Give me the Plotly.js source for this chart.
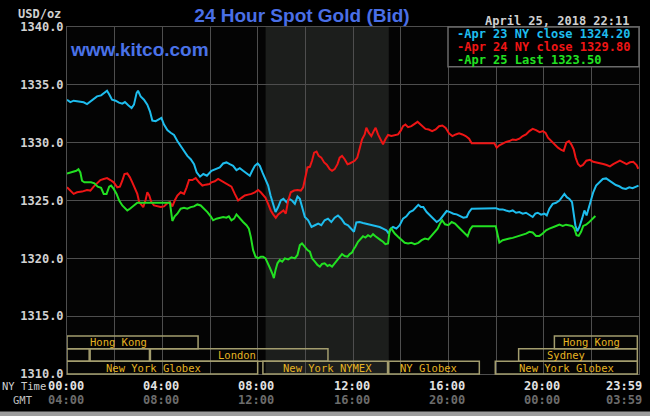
<!DOCTYPE html>
<html>
<head>
<meta charset="utf-8">
<script src="https://cdn.plot.ly/plotly-3.0.1.min.js"></script>
<style>html,body{margin:0;padding:0;background:#000;}#chart{width:650px;height:416px;}</style>
</head>
<body>
<div id="chart"></div>
<script>
// ---- Data (hours of NY time, price USD/oz) ----
const apr23T = [0,0.14,0.28,0.49,0.70,0.84,1.05,1.26,1.43,1.57,1.68,1.78,1.89,2.04,2.18,2.32,2.43,2.57,2.71,2.81,2.92,2.98,3.09,3.23,3.37,3.48,3.58,3.72,3.86,3.96,4.07,4.21,4.35,4.49,4.63,4.77,4.91,5.05,5.19,5.33,5.44,5.58,5.72,5.87,6.06,6.20,6.41,6.55,6.69,6.83,6.97,7.11,7.25,7.39,7.53,7.67,7.77,7.88,8.0,8.09,8.2,8.33,8.44,8.54,8.65,8.75,8.86,8.97,9.08,9.21,9.32,9.44,9.56,9.67,9.77,9.86,9.98,10.12,10.26,10.40,10.54,10.67,10.81,10.95,11.09,11.23,11.37,11.51,11.65,11.79,11.93,12.04,12.14,12.28,12.42,12.56,12.70,12.84,12.98,13.12,13.26,13.40,13.50,13.58,13.68,13.82,13.96,14.10,14.24,14.38,14.52,14.66,14.74,14.85,14.95,15.09,15.23,15.37,15.51,15.65,15.79,15.93,16.07,16.21,16.35,16.49,16.63,16.77,16.87,16.98,17.54,18.0,18.14,18.28,18.42,18.56,18.70,18.84,18.98,19.12,19.26,19.40,19.54,19.65,19.75,19.89,20.03,20.13,20.24,20.38,20.52,20.66,20.77,20.87,20.97,21.08,21.19,21.26,21.33,21.41,21.50,21.61,21.71,21.80,21.89,21.99,22.08,22.20,22.34,22.48,22.62,22.76,22.90,23.03,23.17,23.31,23.45,23.59,23.73,23.87,23.98];
const apr23V = [1333.71,1333.51,1333.63,1333.57,1333.49,1333.34,1333.66,1334.0,1334.09,1334.34,1334.49,1334.14,1333.71,1333.63,1333.46,1333.37,1333.51,1333.23,1333.0,1333.29,1334.29,1334.49,1334.0,1333.71,1333.29,1332.71,1331.91,1331.86,1332.0,1332.14,1331.57,1331.09,1330.86,1330.66,1330.14,1329.71,1329.29,1328.86,1328.57,1328.14,1327.43,1327.06,1327.29,1327.14,1327.57,1327.71,1327.86,1328.2,1328.29,1328.14,1328.0,1327.63,1327.8,1327.57,1327.34,1327.14,1327.57,1328.0,1328.2,1328.0,1327.43,1326.86,1326.29,1325.43,1324.71,1324.0,1324.43,1325.0,1325.14,1324.86,1325.14,1325.0,1324.71,1325.34,1325.14,1324.43,1323.57,1323.29,1322.71,1322.86,1323.0,1322.86,1323.29,1323.43,1323.14,1323.51,1323.71,1323.43,1323.0,1322.86,1322.5,1322.3,1323.1,1323.14,1323.06,1323.0,1322.94,1322.86,1322.77,1322.71,1322.57,1322.43,1322.14,1322.57,1322.71,1322.57,1322.86,1323.43,1323.63,1324.0,1324.14,1324.49,1324.63,1324.43,1324.43,1324.0,1323.71,1323.43,1323.14,1323.34,1323.71,1324.09,1324.0,1323.86,1323.8,1323.63,1323.51,1323.57,1324.0,1324.29,1324.29,1324.34,1324.23,1324.23,1324.14,1324.06,1324.14,1323.94,1324.0,1323.86,1323.94,1323.77,1323.57,1323.86,1323.94,1323.77,1323.86,1323.71,1324.29,1324.71,1324.8,1325.0,1325.29,1325.57,1325.29,1325.14,1324.86,1323.71,1322.86,1322.34,1322.71,1323.43,1324.14,1323.71,1324.43,1325.14,1325.71,1326.29,1326.57,1326.86,1326.91,1326.71,1326.57,1326.34,1326.23,1326.06,1326.0,1326.14,1326.06,1326.23,1326.29];

const apr24T = [0,0.14,0.28,0.42,0.63,0.84,0.98,1.12,1.26,1.40,1.54,1.68,1.82,1.96,2.11,2.22,2.32,2.41,2.53,2.64,2.74,2.84,2.95,3.03,3.12,3.20,3.30,3.37,3.45,3.54,3.65,3.79,3.93,4.07,4.21,4.32,4.42,4.52,4.63,4.77,4.91,5.02,5.12,5.26,5.40,5.54,5.68,5.82,5.98,6.06,6.20,6.34,6.48,6.62,6.76,6.90,7.04,7.18,7.32,7.46,7.60,7.74,7.88,8.02,8.13,8.23,8.33,8.44,8.55,8.65,8.76,8.86,8.97,9.08,9.18,9.28,9.39,9.53,9.67,9.81,9.91,10.0,10.09,10.19,10.28,10.37,10.47,10.56,10.67,10.79,10.90,11.02,11.12,11.23,11.35,11.44,11.54,11.65,11.77,11.86,11.96,12.07,12.18,12.28,12.38,12.49,12.56,12.66,12.77,12.87,12.95,13.05,13.16,13.26,13.36,13.47,13.61,13.75,13.89,14.01,14.10,14.20,14.31,14.45,14.59,14.71,14.80,14.90,15.04,15.18,15.32,15.47,15.61,15.75,15.89,16.03,16.17,16.31,16.45,16.59,16.73,16.87,16.98,17.93,18.03,18.14,18.28,18.42,18.56,18.70,18.84,18.98,19.12,19.26,19.40,19.54,19.68,19.83,19.97,20.08,20.18,20.32,20.46,20.60,20.74,20.84,20.95,21.06,21.16,21.26,21.34,21.44,21.54,21.65,21.79,21.94,22.08,22.22,22.36,22.50,22.64,22.78,22.92,23.06,23.20,23.34,23.48,23.62,23.76,23.90,23.97];
const apr24V = [1326.14,1325.86,1325.57,1325.71,1325.77,1325.91,1325.86,1326.2,1326.49,1326.77,1326.86,1326.94,1326.77,1326.57,1326.14,1326.2,1326.71,1327.29,1327.34,1327.0,1326.57,1326.14,1325.57,1324.86,1324.57,1324.43,1325.06,1325.71,1325.43,1324.86,1324.57,1324.49,1324.43,1324.49,1324.77,1324.86,1324.49,1325.0,1325.43,1325.71,1325.57,1326.14,1326.77,1326.77,1326.94,1326.57,1326.29,1326.37,1326.43,1326.57,1326.66,1326.86,1326.71,1326.57,1326.37,1326.2,1325.57,1325.0,1325.23,1325.43,1325.51,1325.57,1325.71,1325.91,1325.71,1325.43,1325.23,1324.71,1324.14,1323.8,1323.51,1323.8,1324.0,1324.14,1323.86,1325.0,1325.71,1325.86,1325.91,1325.86,1326.14,1327.14,1327.86,1327.91,1328.43,1329.14,1329.23,1328.86,1328.71,1328.29,1328.09,1327.71,1327.57,1327.71,1328.14,1328.71,1328.86,1328.57,1328.14,1328.2,1328.3,1328.43,1328.71,1329.57,1330.29,1330.71,1331.29,1330.86,1330.57,1331.0,1331.29,1330.71,1330.29,1329.86,1330.29,1330.66,1330.57,1330.66,1330.71,1331.06,1331.43,1331.57,1331.34,1331.43,1331.63,1331.8,1331.63,1331.42,1331.19,1331.14,1331.0,1331.14,1331.42,1331.48,1331.28,1330.8,1330.57,1330.71,1330.8,1330.71,1330.57,1330.34,1329.94,1329.94,1329.57,1329.77,1329.94,1330.06,1330.14,1330.28,1330.23,1330.34,1330.57,1330.71,1331.0,1331.19,1331.08,1330.91,1331.0,1330.85,1330.43,1330.14,1329.86,1329.57,1329.37,1329.29,1330.0,1330.14,1329.86,1329.43,1328.72,1328.15,1327.95,1328.07,1328.44,1328.52,1328.35,1328.3,1328.24,1328.15,1328.07,1327.95,1328.15,1328.3,1328.44,1328.3,1328.15,1328.3,1328.35,1328.07,1327.73];

const apr25T = [0,0.14,0.28,0.39,0.48,0.56,0.63,0.73,0.87,1.01,1.15,1.29,1.43,1.54,1.66,1.77,1.85,1.96,2.08,2.19,2.32,2.43,2.53,2.64,2.75,2.86,2.95,4.32,4.38,4.42,4.52,4.63,4.77,4.91,5.05,5.19,5.33,5.47,5.61,5.75,5.89,6.03,6.13,6.27,6.41,6.55,6.69,6.79,6.90,7.01,7.11,7.25,7.39,7.53,7.63,7.71,7.81,7.91,8.02,8.13,8.23,8.33,8.44,8.52,8.61,8.68,8.75,8.83,8.93,9.03,9.14,9.28,9.42,9.56,9.67,9.77,9.86,9.98,10.09,10.19,10.28,10.40,10.51,10.61,10.70,10.81,10.93,11.02,11.12,11.23,11.35,11.44,11.54,11.65,11.77,11.86,11.96,12.05,12.10,12.21,12.32,12.42,12.52,12.63,12.74,12.84,12.94,13.05,13.16,13.26,13.36,13.47,13.54,13.61,13.75,13.89,14.03,14.17,14.31,14.45,14.59,14.74,14.88,15.02,15.16,15.30,15.44,15.55,15.65,15.74,15.86,16.0,16.14,16.28,16.42,16.56,16.70,16.81,16.91,17.01,17.99,18.07,18.14,18.28,18.42,18.56,18.70,18.84,18.98,19.12,19.26,19.40,19.54,19.68,19.82,19.96,20.10,20.24,20.38,20.52,20.66,20.80,20.94,21.08,21.19,21.29,21.38,21.47,21.57,21.66,21.78,21.89,21.99,22.08,22.17];
const apr25V = [1327.34,1327.43,1327.51,1327.57,1327.71,1327.43,1326.71,1326.57,1326.57,1326.57,1326.49,1326.2,1326.09,1325.57,1325.57,1326.2,1326.29,1326.0,1325.57,1325.0,1324.57,1324.34,1324.14,1324.29,1324.49,1324.71,1324.8,1324.8,1323.86,1323.23,1323.63,1323.86,1324.29,1324.37,1324.29,1324.43,1324.49,1324.66,1324.57,1324.29,1324.0,1323.63,1323.29,1323.43,1323.51,1323.57,1323.51,1323.63,1323.29,1323.43,1323.8,1323.43,1323.14,1322.86,1322.57,1321.86,1320.71,1320.14,1320.0,1320.14,1320.14,1320.0,1319.57,1319.14,1318.71,1318.29,1319.0,1319.57,1319.86,1319.71,1320.0,1319.91,1320.09,1320.0,1320.29,1321.14,1321.29,1320.94,1320.71,1320.57,1320.0,1319.71,1319.43,1319.29,1319.51,1319.57,1319.34,1319.43,1319.29,1319.57,1319.86,1320.14,1320.37,1320.2,1320.14,1320.37,1320.5,1320.86,1321.0,1321.43,1321.71,1321.91,1321.8,1322.0,1321.86,1322.09,1321.91,1321.71,1321.57,1321.43,1321.23,1321.29,1322.43,1322.57,1322.14,1321.86,1321.57,1321.34,1321.29,1321.34,1321.23,1321.34,1321.57,1321.71,1321.63,1322.0,1322.29,1322.57,1323.0,1323.29,1322.94,1322.86,1323.14,1323.0,1322.71,1322.43,1322.14,1321.91,1322.49,1322.77,1322.77,1322.0,1321.37,1321.57,1321.66,1321.71,1321.77,1321.86,1322.0,1322.06,1322.14,1322.29,1322.23,1321.94,1321.94,1322.14,1322.43,1322.57,1322.71,1322.8,1322.91,1322.8,1322.91,1322.86,1322.8,1322.57,1322.0,1321.94,1322.29,1322.8,1322.91,1323.09,1323.29,1323.49,1323.66];

const legendLabels = ["-Apr 23 NY close 1324.20", "-Apr 24 NY close 1329.80", "-Apr 25 Last 1323.50"];
const seriesColors = ["#1ebdee", "#ee1515", "#22e022"];

const nyTickVals = [0, 4, 8, 12, 16, 20, 23.983];
const nyTickText = ["00:00", "04:00", "08:00", "12:00", "16:00", "20:00", "23:59"];
const gmtTickText = ["04:00", "08:00", "12:00", "16:00", "20:00", "00:00", "03:59"];

// market sessions: [label, start hour, end hour, row, label hour]
const sessions = [
  ["Hong Kong", 0, 5.5, 0, 2.14],
  ["Hong Kong", 20.45, 23.93, 0, 22.01],
  ["", 0, 0.93, 1, null],
  ["", 0.97, 3.46, 1, null],
  ["London", 3.5, 10.95, 1, 7.15],
  ["Sydney", 18.95, 23.93, 1, 20.94],
  ["New York Globex", 0, 8.0, 2, 3.64],
  ["New York NYMEX", 8.22, 13.45, 2, 10.91],
  ["NY Globex", 13.5, 17.3, 2, 15.16],
  ["New York Globex", 17.97, 23.93, 2, 20.94]
];
const nymexShade = [8.333, 13.5];

// ---- Layout helpers (pixel geometry) ----
const W = 650, H = 416, L = 67, R = 639, T = 27, B = 374;
const px2x = p => (p - L) / (R - L);
const py2y = p => (B - p) / (B - T);
const h2px = h => L + h / 24 * (R - L);
const MONO = "DejaVu Sans Mono";
const rowTops = [336, 348.7, 361.3, 374];

const traces = [
  {x: apr23T, y: apr23V, color: seriesColors[0]},
  {x: apr24T, y: apr24V, color: seriesColors[1]},
  {x: apr25T, y: apr25V, color: seriesColors[2]}
].map(s => ({
  type: "scatter", mode: "lines", x: s.x, y: s.y,
  line: {color: s.color, width: 2}, hoverinfo: "skip", showlegend: false
}));

const shapes = [];
shapes.push({type: "rect", layer: "below", xref: "x", yref: "paper",
  x0: nymexShade[0], x1: nymexShade[1], y0: 0, y1: 1,
  fillcolor: "#1c1e1c", line: {width: 0}});
sessions.forEach(s => {
  shapes.push({type: "rect", layer: "above", xref: "x", yref: "paper",
    x0: s[1], x1: s[2], y0: py2y(rowTops[s[3] + 1]), y1: py2y(rowTops[s[3]]),
    fillcolor: "rgba(0,0,0,0)", line: {color: "#a39d6e", width: 1.5}});
});
// legend box
shapes.push({type: "rect", layer: "above", xref: "paper", yref: "paper",
  x0: px2x(448), x1: px2x(639), y0: py2y(66.7), y1: 1,
  fillcolor: "#000", line: {color: "#6a6a6a", width: 1.5}});
// bottom strip
shapes.push({type: "rect", layer: "above", xref: "paper", yref: "paper",
  x0: px2x(0), x1: px2x(650), y0: py2y(416), y1: py2y(411.5),
  fillcolor: "#9c9c9c", line: {width: 0}});

const ann = [];
sessions.forEach(s => {
  if (!s[0]) return;
  ann.push({xref: "x", yref: "paper", x: s[4], y: py2y((rowTops[s[3]] + rowTops[s[3] + 1]) / 2),
    text: s[0], showarrow: false, xanchor: "center", yanchor: "middle",
    font: {family: MONO, size: 10.5, color: "#e6b422"}});
});
legendLabels.forEach((t, i) => {
  ann.push({xref: "paper", yref: "paper", x: px2x(455), y: py2y([34.3, 46.7, 60][i]),
    text: t, showarrow: false, xanchor: "left", yanchor: "middle",
    font: {family: MONO, size: 12, color: seriesColors[i], weight: "bold"}});
});
nyTickVals.forEach((v, i) => {
  const last = i === nyTickVals.length - 1;
  const xp = last ? px2x(644) : px2x(h2px(v) - 1.5);
  const xa = last ? "right" : "center";
  ann.push({xref: "paper", yref: "paper", x: xp, y: py2y(385.5),
    text: nyTickText[i], showarrow: false, xanchor: xa, yanchor: "middle",
    font: {family: MONO, size: 12, color: "#e2e2e2", weight: "bold"}});
  ann.push({xref: "paper", yref: "paper", x: xp, y: py2y(400.5),
    text: gmtTickText[i], showarrow: false, xanchor: xa, yanchor: "middle",
    font: {family: MONO, size: 12, color: "#6c6c6c", weight: "bold"}});
});
ann.push({xref: "paper", yref: "paper", x: px2x(0), y: py2y(385.5), text: "NY Time", showarrow: false,
  xanchor: "left", yanchor: "middle", font: {family: MONO, size: 10.5, color: "#d0d0d0"}});
ann.push({xref: "paper", yref: "paper", x: px2x(11), y: py2y(400), text: "GMT", showarrow: false,
  xanchor: "left", yanchor: "middle", font: {family: MONO, size: 10.5, color: "#c0c0c0"}});
ann.push({xref: "paper", yref: "paper", x: px2x(63), y: py2y(14), text: "USD/oz", showarrow: false,
  xanchor: "right", yanchor: "middle", font: {family: MONO, size: 12, color: "#d0d0d0", weight: "bold"}});
ann.push({xref: "paper", yref: "paper", x: px2x(68), y: py2y(49), text: "www.kitco.com", showarrow: false,
  xanchor: "left", yanchor: "middle", font: {family: "Liberation Sans", size: 19, color: "#4a72e8", weight: "bold"}});
ann.push({xref: "paper", yref: "paper", x: px2x(483), y: py2y(20.5), text: "April 25, 2018 22:11", showarrow: false,
  xanchor: "left", yanchor: "middle", font: {family: MONO, size: 12, color: "#cfcfcf", weight: "bold"}});

const layout = {
  width: W, height: H,
  margin: {l: L, r: W - R, t: T, b: H - B, pad: 0},
  paper_bgcolor: "#000", plot_bgcolor: "#040404",
  title: {text: "24 Hour Spot Gold (Bid)", x: px2x(302), xref: "paper", xanchor: "center",
    y: 1 - 15 / H, yref: "container", yanchor: "middle",
    font: {family: "Liberation Sans", size: 19, color: "#4a6fe6", weight: "bold"}},
  xaxis: {range: [0, 24], dtick: 2, tick0: 0, showgrid: true, gridcolor: "#4e4e4e", gridwidth: 1,
    showticklabels: false, ticks: "", zeroline: false, showline: true, linecolor: "#4e4e4e", mirror: true, fixedrange: true},
  yaxis: {range: [1310, 1340], dtick: 5, tick0: 1310, tickformat: ".1f", showgrid: true, gridcolor: "#4e4e4e",
    gridwidth: 1, ticks: "", zeroline: false, showline: true, linecolor: "#4e4e4e", mirror: true,
    tickfont: {family: MONO, size: 12, color: "#d2d2d2", weight: "bold"}, fixedrange: true},
  shapes: shapes, annotations: ann, showlegend: false
};

Plotly.newPlot("chart", traces, layout, {displayModeBar: false, staticPlot: true});
</script>
</body>
</html>
